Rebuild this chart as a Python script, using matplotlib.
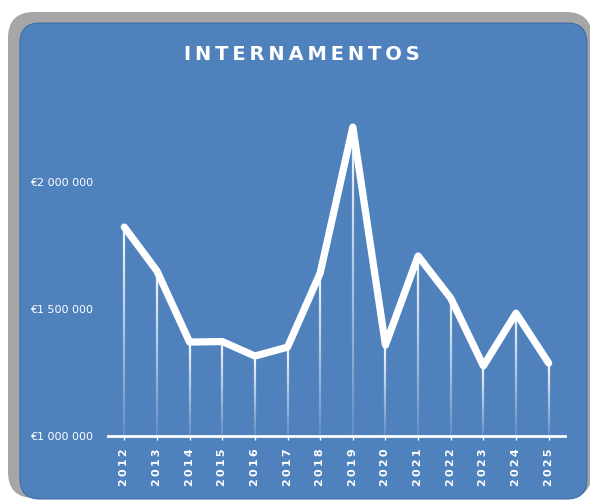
import numpy as np
import matplotlib.pyplot as plt
from matplotlib.patches import FancyBboxPatch
from matplotlib.collections import LineCollection
from matplotlib.ticker import FuncFormatter

# dados
anos = [2012, 2013, 2014, 2015, 2016, 2017, 2018, 2019, 2020, 2021, 2022, 2023, 2024, 2025]
valores = [1823000, 1650000, 1370000, 1372000, 1315000, 1350000, 1642000,
           2217000, 1358000, 1709000, 1543000, 1276000, 1484000, 1287000]
yticks = [1000000, 1500000, 2000000]
titulo = "INTERNAMENTOS"

azul = "#4F81BD"
cinza = "#A6A6A6"

fig = plt.figure(figsize=(5.9, 5.01), dpi=100, facecolor="white")

# fundo (moldura arredondada) em coordenadas de pixel
bg = fig.add_axes([0, 0, 1, 1])
bg.set_xlim(0, 590)
bg.set_ylim(501, 0)
bg.axis("off")
r1 = 26
bg.add_patch(FancyBboxPatch((8 + r1, 12 + r1), 584 - 2 * r1, 486 - 2 * r1,
                            boxstyle=f"round,pad={r1}", fc=cinza, ec="none"))
r2 = 20
bg.add_patch(FancyBboxPatch((20 + r2, 23 + r2), 567 - 2 * r2, 476 - 2 * r2,
                            boxstyle=f"round,pad={r2}", fc=azul, ec="#3E6DA6", lw=0.8))

ax = fig.add_axes([108 / 590, 65 / 501, 457 / 590, 330 / 501])
ax.set_facecolor("none")

# linhas verticais com degradê
for x, v in zip(anos, valores):
    ys = np.linspace(yticks[0], v, 40)
    segs = [[(x, ys[i]), (x, ys[i + 1])] for i in range(len(ys) - 1)]
    alphas = np.linspace(0.12, 0.95, len(segs))
    cores = [(1, 1, 1, a) for a in alphas]
    ax.add_collection(LineCollection(segs, colors=cores, linewidths=1.6, zorder=2))

ax.plot(anos, valores, color="white", lw=5.2, solid_capstyle="round",
        solid_joinstyle="round", zorder=3)

ax.set_xlim(2011.5, 2025.5)
ax.set_ylim(1000000, 2300000)
ax.set_yticks(yticks)
ax.yaxis.set_major_formatter(FuncFormatter(lambda v, p: "€" + f"{int(v):,}".replace(",", " ")))
ax.set_xticks(anos)
ax.set_xticklabels(["\u2009".join(str(a)) for a in anos], rotation=90,
                   fontweight="bold", fontsize=8, color="white")

for s in ["top", "right", "left"]:
    ax.spines[s].set_visible(False)
ax.spines["bottom"].set_color("white")
ax.spines["bottom"].set_linewidth(2)

ax.tick_params(axis="y", length=0, pad=11, labelsize=8, labelcolor="white")
ax.tick_params(axis="x", length=3, width=1, color="white", pad=6)

fig.text(302 / 590, 1 - 55 / 501, "\u2009".join(titulo), color="white",
         fontsize=14, fontweight="bold", ha="center", va="center")

plt.savefig("out.png", dpi=100)
